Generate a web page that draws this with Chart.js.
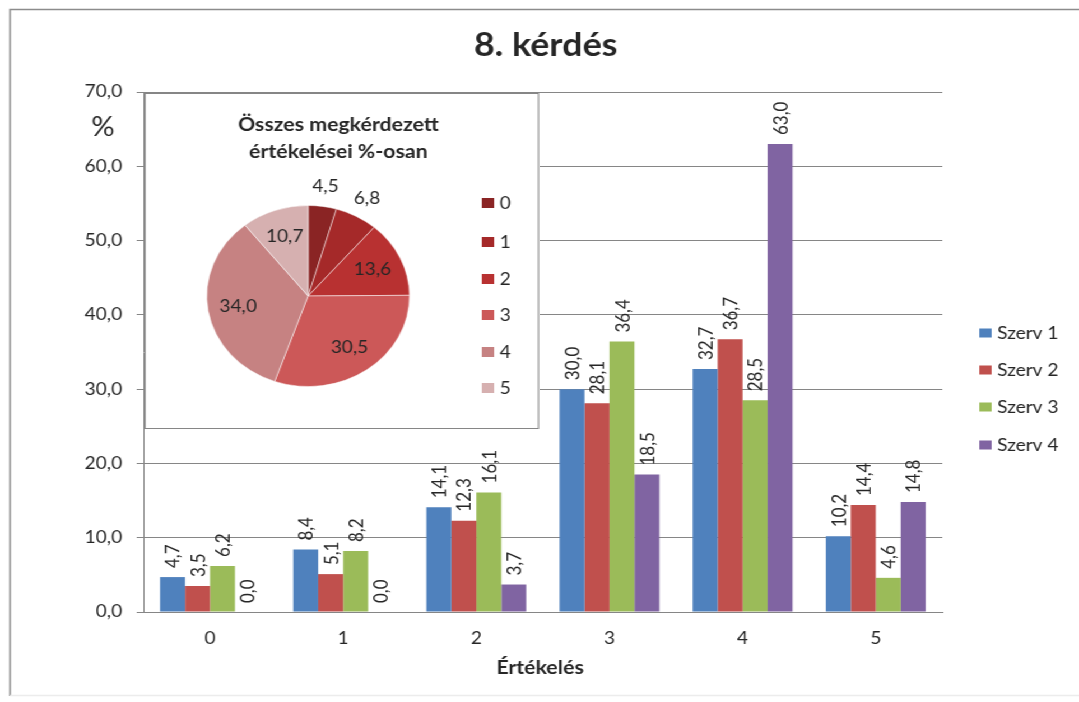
<!DOCTYPE html>
<html lang="hu">
<head>
<meta charset="UTF-8">
<title>8. kérdés</title>
<script src="https://cdn.jsdelivr.net/npm/chart.js"></script>
<style>
    body {
        margin: 0;
        background: #fff;
        overflow: hidden;
    }
    /* the whole chart is drawn 963px wide and widened to the window */
    #stage {
        position: relative;
        width: 963px;
        height: 702px;
        transform: scaleX(1.1205);
        transform-origin: 0 0;
    }
    #barChart {
        position: absolute;
        left: 0;
        top: 0;
    }
    #inset {
        position: absolute;
        left: 129px;
        top: 93px;
        width: 352px;
        height: 336px;
        box-sizing: border-box;
        border: 1px solid #868686;
        background: #fff;
    }
</style>
</head>
<body>
<div id="stage">
    <canvas id="barChart" width="963" height="702"></canvas>
    <div id="inset">
        <canvas id="pieChart" width="350" height="334"></canvas>
    </div>
</div>

<script>
    // értékelés kategóriák
    const categories = ['0', '1', '2', '3', '4', '5'];

    // szervezetenkénti megoszlás (%)
    const szerv1 = [4.7, 8.4, 14.1, 30.0, 32.7, 10.2];
    const szerv2 = [3.5, 5.1, 12.3, 28.1, 36.7, 14.4];
    const szerv3 = [6.2, 8.2, 16.1, 36.4, 28.5, 4.6];
    const szerv4 = [0.0, 0.0, 3.7, 18.5, 63.0, 14.8];
    const seriesNames = ['Szerv 1', 'Szerv 2', 'Szerv 3', 'Szerv 4'];
    const seriesColors = ['#4F81BD', '#C0504D', '#9BBB59', '#8064A2'];

    // összes megkérdezett (%)
    const pieLabels = ['0', '1', '2', '3', '4', '5'];
    const pieValues = [4.5, 6.8, 13.6, 30.5, 34.0, 10.7];
    const pieColors = ['#8A2424', '#A52929', '#B83131', '#CC5858', '#C68282', '#D6B0B0'];

    const FONT = 'Lato, "Open Sans", sans-serif';
    const TEXT = '#262626';
    const GRID = '#868686';

    const fmt = v => Number(v).toFixed(1).replace('.', ',');

    // címek, keret, jelmagyarázat a fő diagramon
    const frameAndText = {
        id: 'frameAndText',
        beforeDraw(chart) {
            const ctx = chart.ctx;
            ctx.save();
            ctx.strokeStyle = '#8c8c8c';
            ctx.lineWidth = 1.5;
            ctx.beginPath();
            ctx.moveTo(9, 696);
            ctx.lineTo(9, 9.5);
            ctx.lineTo(970, 9.5);
            ctx.stroke();
            ctx.strokeStyle = '#ececec';
            ctx.beginPath();
            ctx.moveTo(9, 695.5);
            ctx.lineTo(970, 695.5);
            ctx.stroke();
            ctx.restore();
        },
        afterDraw(chart) {
            const ctx = chart.ctx;
            ctx.save();
            ctx.fillStyle = TEXT;
            ctx.textAlign = 'center';
            ctx.textBaseline = 'middle';

            ctx.font = 'bold 32px ' + FONT;
            ctx.fillText('8. kérdés', 487, 46);

            ctx.font = 'bold 19px ' + FONT;
            ctx.fillText('Értékelés', 482, 668);

            ctx.font = '26px ' + FONT;
            ctx.fillText('%', 92, 128);

            // jelmagyarázat
            ctx.textAlign = 'left';
            ctx.font = '17px ' + FONT;
            const rows = [333, 370, 407, 445];
            seriesNames.forEach((name, i) => {
                ctx.fillStyle = seriesColors[i];
                ctx.fillRect(874, rows[i] - 4.5, 11, 9);
                ctx.fillStyle = TEXT;
                ctx.fillText(name, 890, rows[i] + 1);
            });
            ctx.restore();
        },
        afterDatasetsDraw(chart) {
            // függőleges értékcímkék az oszlopok fölött
            const ctx = chart.ctx;
            ctx.save();
            ctx.font = '17px ' + FONT;
            ctx.fillStyle = TEXT;
            ctx.textAlign = 'left';
            ctx.textBaseline = 'middle';
            chart.data.datasets.forEach((ds, i) => {
                chart.getDatasetMeta(i).data.forEach((bar, j) => {
                    ctx.save();
                    ctx.translate(bar.x + 1, bar.y - 9);
                    ctx.rotate(-Math.PI / 2);
                    ctx.fillText(fmt(ds.data[j]), 0, 0);
                    ctx.restore();
                });
            });
            ctx.restore();
        }
    };

    new Chart(document.getElementById('barChart'), {
        type: 'bar',
        data: {
            labels: categories,
            datasets: [szerv1, szerv2, szerv3, szerv4].map((values, i) => ({
                label: seriesNames[i],
                data: values,
                backgroundColor: seriesColors[i],
                categoryPercentage: 0.75,
                barPercentage: 1.0
            }))
        },
        options: {
            responsive: false,
            animation: false,
            layout: { padding: { left: 0, top: 92, right: 122, bottom: 0 } },
            plugins: {
                legend: { display: false },
                title: { display: false },
                tooltip: { enabled: false }
            },
            scales: {
                x: {
                    grid: { display: false },
                    border: { display: true, color: GRID },
                    ticks: { color: TEXT, font: { family: FONT, size: 17 }, padding: 8 },
                    afterFit: s => { s.height = 90; }
                },
                y: {
                    min: 0,
                    max: 70,
                    ticks: {
                        stepSize: 10,
                        color: TEXT,
                        font: { family: FONT, size: 17 },
                        padding: 13,
                        callback: v => fmt(v)
                    },
                    grid: { color: GRID, tickLength: 6 },
                    border: { display: true, color: GRID },
                    afterFit: s => { s.width = 128; }
                }
            }
        },
        plugins: [frameAndText]
    });

    // kördiagram címe, címkéi és jelmagyarázata
    const pieText = {
        id: 'pieText',
        afterDatasetsDraw(chart) {
            const ctx = chart.ctx;
            ctx.save();
            ctx.fillStyle = TEXT;
            ctx.textAlign = 'center';
            ctx.textBaseline = 'middle';
            ctx.font = '17px ' + FONT;
            chart.getDatasetMeta(0).data.forEach((arc, i) => {
                const p = arc.getProps(['x', 'y', 'startAngle', 'endAngle', 'outerRadius'], true);
                const mid = (p.startAngle + p.endAngle) / 2;
                const r = pieValues[i] < 10 ? p.outerRadius * 1.22 : p.outerRadius * 0.7;
                ctx.fillText(fmt(pieValues[i]), p.x + Math.cos(mid) * r, p.y + Math.sin(mid) * r);
            });

            ctx.font = 'bold 19px ' + FONT;
            ctx.fillText('Összes megkérdezett', 172, 31);
            ctx.fillText('értékelései %-osan', 172, 58);

            ctx.textAlign = 'left';
            ctx.font = '17px ' + FONT;
            const rows = [109, 148, 185, 221, 258, 294];
            pieLabels.forEach((lab, i) => {
                ctx.fillStyle = pieColors[i];
                ctx.fillRect(300, rows[i] - 5, 11, 10);
                ctx.fillStyle = TEXT;
                ctx.fillText(lab, 316, rows[i] + 1);
            });
            ctx.restore();
        }
    };

    new Chart(document.getElementById('pieChart'), {
        type: 'pie',
        data: {
            labels: pieLabels,
            datasets: [{
                data: pieValues,
                backgroundColor: pieColors,
                borderColor: 'rgba(255,255,255,0.5)',
                borderWidth: 1
            }]
        },
        options: {
            responsive: false,
            animation: false,
            layout: { padding: { left: 54, top: 111, right: 114, bottom: 41 } },
            plugins: {
                legend: { display: false },
                title: { display: false },
                tooltip: { enabled: false }
            }
        },
        plugins: [pieText]
    });
</script>
</body>
</html>
